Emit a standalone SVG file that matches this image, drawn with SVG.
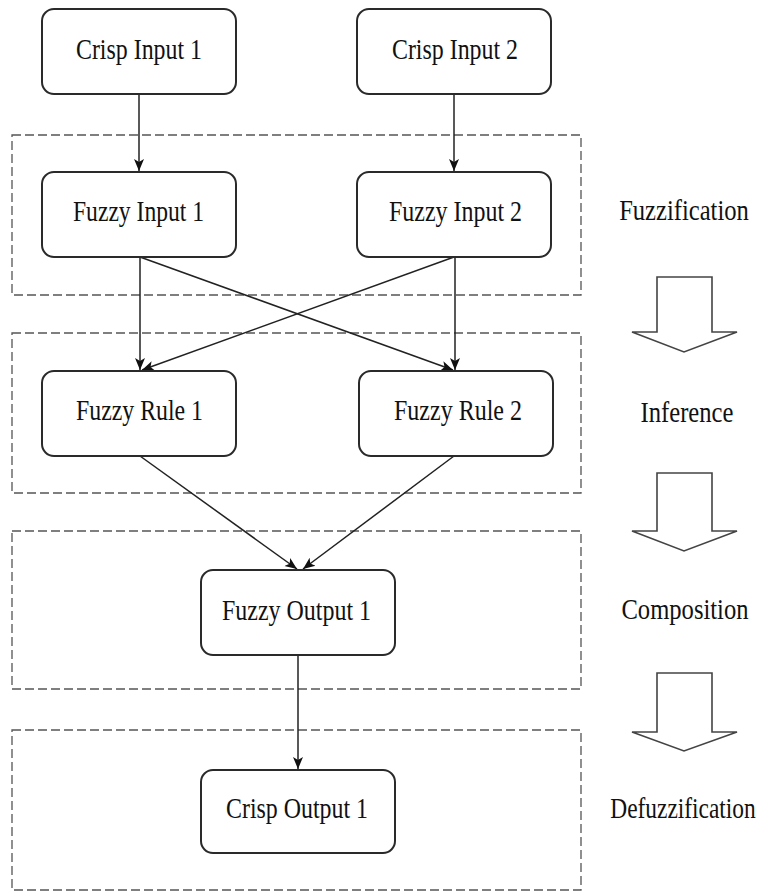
<svg xmlns="http://www.w3.org/2000/svg" width="763" height="894" viewBox="0 0 763 894">
<style>
.node{fill:#fff;stroke:#2a2a2a;stroke-width:2}
.grp{fill:none;stroke:#555;stroke-width:1.3;stroke-dasharray:9 4}
.lbl{font-family:"Liberation Serif","Times New Roman",serif;font-size:30px;fill:#111}
.side{font-family:"Liberation Serif","Times New Roman",serif;font-size:30px;fill:#111;text-anchor:middle}
.edge{fill:none;stroke:#222;stroke-width:1.5}
.big{fill:#fff;stroke:#444;stroke-width:1.6}
</style>
<defs>
<marker id="ah" markerUnits="userSpaceOnUse" markerWidth="12" markerHeight="12" viewBox="0 0 12 12" refX="12" refY="6" orient="auto">
<path d="M0,1 L12,6 L0,11 L3,6 Z" fill="#111"/>
</marker>
</defs>
<rect width="763" height="894" fill="#fff"/>
<g id="groups">
<rect class="grp" x="12" y="135" width="569" height="160"/>
<rect class="grp" x="12" y="333" width="569" height="160"/>
<rect class="grp" x="12" y="531" width="569" height="158"/>
<rect class="grp" x="12" y="730" width="569" height="160"/>
</g>
<g id="connectors">
<line class="edge" x1="139" y1="94" x2="139" y2="171" marker-end="url(#ah)"/>
<line class="edge" x1="454" y1="94" x2="454" y2="171" marker-end="url(#ah)"/>
<line class="edge" x1="140" y1="257" x2="140" y2="370" marker-end="url(#ah)"/>
<line class="edge" x1="140" y1="257" x2="453" y2="370" marker-end="url(#ah)"/>
<line class="edge" x1="454" y1="257" x2="142" y2="370" marker-end="url(#ah)"/>
<line class="edge" x1="455" y1="257" x2="455" y2="370" marker-end="url(#ah)"/>
<line class="edge" x1="140" y1="456" x2="297" y2="569" marker-end="url(#ah)"/>
<line class="edge" x1="454" y1="456" x2="303" y2="569" marker-end="url(#ah)"/>
<line class="edge" x1="298" y1="655" x2="298" y2="769" marker-end="url(#ah)"/>
</g>
<g id="crisp-input-1"><rect class="node" x="42" y="9" width="194" height="85" rx="12"/><text class="lbl" x="76" y="59" textLength="126" lengthAdjust="spacingAndGlyphs">Crisp Input 1</text></g>
<g id="crisp-input-2"><rect class="node" x="357" y="9" width="194" height="85" rx="12"/><text class="lbl" x="392" y="59" textLength="126" lengthAdjust="spacingAndGlyphs">Crisp Input 2</text></g>
<g id="fuzzy-input-1"><rect class="node" x="42" y="172" width="194" height="85" rx="12"/><text class="lbl" x="73" y="221" textLength="131" lengthAdjust="spacingAndGlyphs">Fuzzy Input 1</text></g>
<g id="fuzzy-input-2"><rect class="node" x="357" y="172" width="194" height="85" rx="12"/><text class="lbl" x="389" y="221" textLength="133" lengthAdjust="spacingAndGlyphs">Fuzzy Input 2</text></g>
<g id="fuzzy-rule-1"><rect class="node" x="42" y="371" width="194" height="85" rx="12"/><text class="lbl" x="76" y="420" textLength="127" lengthAdjust="spacingAndGlyphs">Fuzzy Rule 1</text></g>
<g id="fuzzy-rule-2"><rect class="node" x="359" y="371" width="194" height="85" rx="12"/><text class="lbl" x="394" y="420" textLength="128" lengthAdjust="spacingAndGlyphs">Fuzzy Rule 2</text></g>
<g id="fuzzy-output-1"><rect class="node" x="201" y="570" width="194" height="85" rx="12"/><text class="lbl" x="222" y="620" textLength="149" lengthAdjust="spacingAndGlyphs">Fuzzy Output 1</text></g>
<g id="crisp-output-1"><rect class="node" x="201" y="770" width="194" height="83" rx="12"/><text class="lbl" x="226" y="818" textLength="142" lengthAdjust="spacingAndGlyphs">Crisp Output 1</text></g>
<g id="stages">
<text class="side" transform="translate(684,220) scale(0.82,1)">Fuzzification</text>
<text class="side" transform="translate(687,422) scale(0.82,1)">Inference</text>
<text class="side" transform="translate(685,619) scale(0.82,1)">Composition</text>
<text class="side" transform="translate(683,818) scale(0.78,1)">Defuzzification</text>
<path class="big" d="M657,277 H712 V332 H737 L684,352 L632,332 H657 Z"/>
<path class="big" d="M657,473 H712 V531 H737 L684,551 L632,531 H657 Z"/>
<path class="big" d="M657,673 H712 V732 H737 L684,751 L632,732 H657 Z"/>
</g>
</svg>
